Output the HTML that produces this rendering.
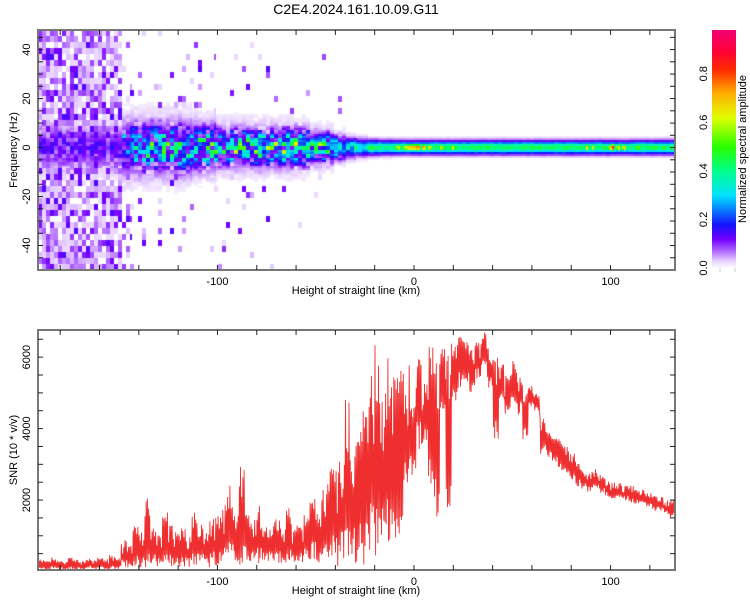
<!DOCTYPE html>
<html><head><meta charset="utf-8">
<style>
body{margin:0;background:#fff;width:750px;height:600px;overflow:hidden;font-family:"Liberation Sans",sans-serif;position:relative}
canvas{position:absolute}
svg{position:absolute;left:0;top:0}
</style></head>
<body>
<canvas id="spec" width="637" height="240" style="left:38px;top:30px"></canvas>
<canvas id="cbar" width="24" height="238" style="left:712px;top:30px"></canvas>
<svg id="chart" width="750" height="600"></svg>
<script>
// ---------- SNR data (3 km bins starting at -191 km) ----------
const snrBinStart = -191;
const snrBinWidth = 3;
const snrHigh = [350,280,400,300,260,380,320,290,350,310,400,330,450,380,
 900,750,1400,1100,
 2050,1200,1000,1750,1300,1100,
 1200,1050,1800,1300,1100,1500,1600,
 1900,2400,1600,3000,1700,1500,
 1900,1400,1300,1500,1200,1900,1400,1300,
 1600,2200,1700,2300,2900,
 3100,3300,4900,3600,
 4600,4700,5600,6400,
 5600,6000,5500,6300,
 5800,4800,6200,
 5300,6300,6000,
 6300,6100,6400,
 6700,6500,6200,6400,6800,6300,6000,
 5800,5500,5900,5600,
 5300,5200,5000,
 4300,3900,3800,
 3700,3500,3400,
 3100,2900,2800,2900,2700,
 2600,2500,2500,2400,2400,2300,2300,
 2200,2100,2100,2000,2000];
const snrLow = [60,40,80,50,30,70,60,40,90,50,60,40,70,80,
 100,60,150,120,
 120,200,100,180,150,90,
 150,100,200,250,120,180,150,
 200,250,300,200,280,220,
 250,200,300,220,250,300,200,260,
 250,300,200,350,300,
 150,300,200,250,
 300,200,500,350,
 500,400,900,1000,
 2200,2700,3400,
 3600,2300,1400,
 4500,1000,4800,
 5100,5300,5000,5400,5600,5100,3500,
 4700,4300,4600,4400,
 3600,4600,4500,
 3300,3200,3000,
 2800,2700,2500,
 2400,2300,2200,2300,2200,
 2100,2000,2000,2000,1900,1900,1900,
 1800,1700,1700,1600,1500];
const xTickLabels = [-100,0,100];
const snrTickLabels = [2000,4000,6000];
const freqTickLabels = [-40,-20,0,20,40];
const cbarTickLabels = [0.0,0.2,0.4,0.6,0.8];

// ---------- Spectrogram data (6 km bins starting at -191 km) ----------
const specBinStart = -191;
const specBinWidth = 6;
const specNoise = [0.85,0.85,0.85,0.85,0.85,0.85,0.8,0.2,0.06,0.06,0.06,0.06,0.06,0.05,0.05,0.04,0.04,0.04,0.04,0.04,0.03,0.03,0.02,0.02,0.02,0.01,0,0,0,0,0,0,0,0,0,0,0,0,0,0,0,0,0,0,0,0,0,0,0,0,0,0,0,0,0];
const specPeak = [0.1,0.1,0.1,0.1,0.1,0.1,0.12,0.25,0.3,0.33,0.33,0.33,0.34,0.35,0.36,0.38,0.38,0.4,0.4,0.38,0.4,0.4,0.38,0.38,0.38,0.36,0.33,0.33,0.42,0.42,0.45,0.45,0.45,0.45,0.45,0.45,0.45,0.45,0.45,0.45,0.45,0.45,0.45,0.45,0.45,0.45,0.45,0.45,0.45,0.42,0.45,0.45,0.45,0.45,0.45];
const specWidth = [6,6,6,6,6,6,6,8,8,8,8,8,8,7,7,6,6,6,6,6,6,6,6,5,5,4,3.5,3,2.6,2.5,2.4,2.4,2.4,2.4,2.4,2.4,2.4,2.4,2.4,2.4,2.4,2.4,2.4,2.4,2.4,2.4,2.4,2.4,2.4,2.4,2.4,2.4,2.4,2.4,2.4];
const specRough = [1,1,1,1,1,1,1,1,1,1,1,1,1,1,1,1,1,1,1,1,1,1,0.9,0.9,0.8,0.6,0.4,0.3,0.15,0.1,0.1,0.1,0.1,0.1,0.1,0.1,0.1,0.1,0.1,0.1,0.1,0.1,0.1,0.1,0.1,0.1,0.1,0.1,0.1,0.1,0.1,0.1,0.1,0.1,0.1];
const hotSpotKm = [-8,-4,-2,0,2,5,8,14,20,88,91,100,101,104,107,114];
const hotSpotAmp = [0.7,0.72,0.78,0.8,0.85,0.8,0.7,0.68,0.68,0.7,0.66,0.72,0.9,0.72,0.72,0.6];

// ---------- axes ----------
const PX0=38, PX1=675;
const kmMin=-191.3, kmMax=132.8;
const xS = km => PX0 + (km-kmMin)/(kmMax-kmMin)*(PX1-PX0);
const T0=30, T1=270, fMax=48, fMin=-50;
const fS = f => T0 + (fMax-f)/(fMax-fMin)*(T1-T0);
const B0=330, B1=570, sMax=6760, sMin=0;
const sS = v => B1 + 1.5 - (v-sMin)*((B1+1.5-B0)/(sMax-sMin));

function cmap(a){
  const st=[[0,[255,255,255]],[0.03,[232,210,255]],[0.07,[180,110,255]],[0.12,[115,0,255]],[0.18,[20,20,255]],[0.3,[0,225,255]],[0.4,[0,255,140]],[0.5,[40,255,0]],[0.62,[225,255,0]],[0.72,[255,175,0]],[0.82,[255,40,0]],[0.9,[255,0,60]],[1,[240,0,130]]];
  a=Math.max(0,Math.min(1,a));
  for(let i=1;i<st.length;i++){ if(a<=st[i][0]){const t=(a-st[i-1][0])/(st[i][0]-st[i-1][0]);const c0=st[i-1][1],c1=st[i][1];return `rgb(${Math.round(c0[0]+(c1[0]-c0[0])*t)},${Math.round(c0[1]+(c1[1]-c0[1])*t)},${Math.round(c0[2]+(c1[2]-c0[2])*t)})`;}}
  return 'rgb(240,0,130)';
}
function hash(i,j,s){
  let h=(i*374761393 + j*668265263 + s*2246822519)|0;
  h=Math.imul(h^(h>>>13),1274126177);
  h=h^(h>>>16);
  return (h>>>0)/4294967296;
}

// spectrogram
(function(){
  const c=document.getElementById('spec').getContext('2d');
  const cw=2, ch=2;
  for(let px=0;px<637;px+=cw){
    const km=kmMin+(px+1)/637*(kmMax-kmMin);
    const b=Math.min(specPeak.length-1,Math.max(0,Math.floor((km-specBinStart)/specBinWidth)));
    const col=Math.floor(px/4);
    for(let py=0;py<240;py+=ch){
      const f=fMax-(py+1)/240*(fMax-fMin);
      const row=Math.floor(py/6), rowB=Math.floor(py/4);
      const r=specRough[b];
      const w=specWidth[b];
      const tex=1-r*0.75+r*1.5*Math.pow(hash(col,rowB,1),1.5);
      let a=specPeak[b]*Math.exp(-(f*f)/(w*w))*tex;
      if(r>0.5) a=Math.max(a,(0.06+0.1*hash(col,rowB,5))*r*Math.exp(-(f*f)/(2.2*w*w)));
      a=Math.max(a,0.045*Math.exp(-(f*f)/(2.6*w*w)));
      if(hash(col,row,2)<specNoise[b]){const h=hash(col,row,3);a=Math.max(a,0.025+0.12*h*h);}
      for(let k=0;k<hotSpotKm.length;k++){const d=(km-hotSpotKm[k])/1.6;a=Math.max(a,hotSpotAmp[k]*Math.exp(-d*d-f*f/2.5));}
      if(a<0.012) continue;
      c.fillStyle=cmap(a);c.fillRect(px,py,cw,ch);
    }
  }
  const cb=document.getElementById('cbar').getContext('2d');
  for(let y=0;y<238;y++){cb.fillStyle=cmap(0.98*(1-y/238));cb.fillRect(0,y,24,1);}
})();

const svg=document.getElementById('chart');
const NS='http://www.w3.org/2000/svg';
function mk(tag,attrs,parent){const e=document.createElementNS(NS,tag);for(const k in attrs)e.setAttribute(k,attrs[k]);(parent||svg).appendChild(e);return e;}
function txt(x,y,s,size,anchor,rot){const t=mk('text',{x:x,y:y,'font-size':size,'text-anchor':anchor||'middle','font-family':'Liberation Sans, sans-serif',fill:'#000'});if(rot)t.setAttribute('transform',`rotate(-90 ${x} ${y})`);t.textContent=s;return t;}

// SNR line
(function(){
  let pts=[];
  const n=10;
  for(let i=0;i<snrHigh.length;i++){
    const k0=snrBinStart+i*snrBinWidth;
    for(let s=0;s<n;s++){
      const h=hash(i,s,7);
      const frac = (s%2===0) ? 0.45+0.55*Math.sqrt(h) : 0.3*h;
      const v=snrLow[i]+(snrHigh[i]-snrLow[i])*frac;
      pts.push([xS(k0+(s+0.5)*snrBinWidth/n),sS(v)]);
    }
  }
  const p=mk('polyline',{points:pts.map(q=>Math.min(PX1,q[0]).toFixed(1)+','+Math.max(B0,q[1]).toFixed(1)).join(' '),fill:'none',stroke:'#ef2f2f','stroke-width':0.9,'stroke-linejoin':'round'});
  
  
})();

// frames & ticks
function panel(top,bot,name){
  const g=mk('g',{});
  
  
  mk('rect',{x:PX0,y:top,width:PX1-PX0,height:bot-top,fill:'none',stroke:'#777','stroke-width':2},g);
  for(let km=-180;km<=120;km+=20){const x=xS(km);mk('line',{x1:x,x2:x,y1:top,y2:top+5,stroke:'#222'},g);mk('line',{x1:x,x2:x,y1:bot,y2:bot-5,stroke:'#222'},g);}
  xTickLabels.forEach(v=>{const t=txt(xS(v),bot+15,String(v),11);});
  const lab=txt(356,bot+24,'Height of straight line (km)',11);
  
  
  return g;
}
const g1=panel(T0,T1,'spectrogram');
for(let f=-45;f<=45;f+=5){const y=fS(f);mk('line',{x1:PX0,x2:PX0+5,y1:y,y2:y,stroke:'#222'},g1);mk('line',{x1:PX1,x2:PX1-5,y1:y,y2:y,stroke:'#222'},g1);}
freqTickLabels.forEach(v=>{const t=txt(30,fS(v),String(v),11,'middle',true);});
const fl=txt(17,150,'Frequency (Hz)',11,'middle',true);


const g2=panel(B0,B1,'snr');
for(let v=500;v<=6500;v+=500){const y=sS(v);mk('line',{x1:PX0,x2:PX0+5,y1:y,y2:y,stroke:'#222'},g2);mk('line',{x1:PX1,x2:PX1-5,y1:y,y2:y,stroke:'#222'},g2);}
snrTickLabels.forEach(v=>{const t=txt(30,sS(v),String(v),11,'middle',true);});
const sl=txt(17,450,'SNR (10 * v/v)',11,'middle',true);


// colorbar labels
cbarTickLabels.forEach(v=>{const y=268-v*(238/0.98);const t=txt(707,y,v.toFixed(1),11,'middle',true);});
mk('line',{x1:720,x2:720,y1:268,y2:272,stroke:'#ccc'});mk('line',{x1:735,x2:735,y1:268,y2:272,stroke:'#ccc'});
const ct=txt(746,149,'Normalized spectral amplitude',11,'middle',true);


const tt=txt(356,14,'C2E4.2024.161.10.09.G11',14);


</script>
</body></html>
